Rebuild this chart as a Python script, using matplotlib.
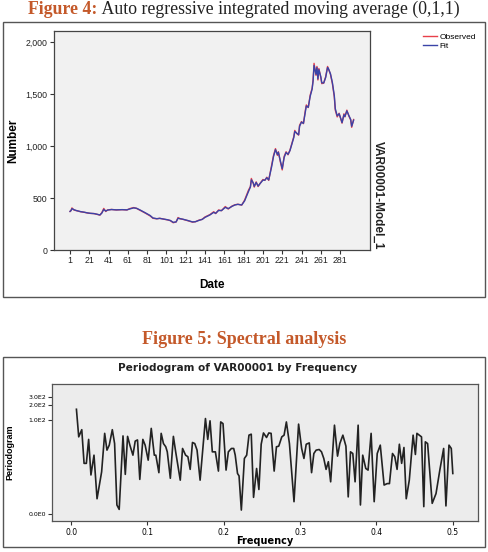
import matplotlib.pyplot as plt
from matplotlib.patches import Rectangle
from matplotlib.ticker import FixedLocator, NullLocator

# Figure 4 data
dates = [1, 2, 3, 5, 7, 9, 12, 16, 19, 22, 26, 29, 32, 34, 36, 38, 40, 44, 49, 55,
         60, 63, 67, 70, 74, 79, 84, 87, 91, 94, 99, 102, 105, 108, 111, 113, 115, 118, 123, 128,
         131, 135, 138, 141, 146, 150, 152, 155, 158, 162, 165, 169, 172, 175, 179, 182, 186, 188, 189, 191,
         192, 194, 196, 198, 201, 203, 205, 207, 210, 212, 214, 216, 217, 219, 221, 223, 225, 227, 229, 231,
         233, 234, 236, 238, 239, 241, 243, 245, 246, 248, 250, 252, 253, 254, 256, 257, 258, 259, 261, 262,
         264, 266, 268, 269, 271, 273, 275, 276, 278, 280, 282, 283, 285, 286, 288, 290, 292, 293, 295]
observed = [370, 380, 405, 385, 380, 375, 368, 362, 356, 352, 350, 343, 335, 360, 400, 370, 385, 390, 385, 388,
            385, 398, 408, 400, 380, 355, 328, 305, 300, 305, 295, 290, 282, 262, 270, 312, 300, 295, 282, 268,
            272, 288, 295, 318, 340, 368, 350, 385, 378, 418, 394, 423, 435, 440, 432, 480, 575, 610, 688, 640,
            605, 655, 610, 640, 678, 670, 700, 670, 815, 910, 975, 910, 945, 850, 770, 900, 945, 915, 960, 1025,
            1090, 1150, 1120, 1105, 1200, 1235, 1215, 1345, 1395, 1370, 1490, 1555, 1635, 1795, 1680, 1765, 1635, 1745, 1660, 1600,
            1605, 1665, 1765, 1740, 1690, 1600, 1470, 1345, 1280, 1315, 1250, 1220, 1310, 1280, 1345, 1290, 1250, 1180, 1255]
fit = [372, 378, 398, 388, 381, 376, 369, 363, 357, 353, 350, 344, 337, 355, 390, 375, 384, 389, 386, 388,
       386, 395, 405, 401, 383, 358, 332, 308, 301, 304, 296, 291, 284, 266, 270, 305, 302, 296, 284, 270,
       272, 286, 294, 314, 337, 362, 353, 380, 379, 410, 398, 420, 433, 439, 433, 472, 562, 605, 675, 645,
       612, 650, 615, 638, 672, 671, 695, 674, 800, 900, 965, 918, 940, 860, 782, 890, 938, 920, 955, 1018,
       1082, 1140, 1124, 1108, 1190, 1230, 1218, 1330, 1385, 1372, 1478, 1548, 1625, 1775, 1690, 1755, 1645, 1735, 1665, 1608,
       1606, 1658, 1755, 1742, 1695, 1610, 1485, 1360, 1290, 1310, 1256, 1225, 1300, 1284, 1338, 1295, 1255, 1190, 1248]

# Figure 5 data
freq = [0.007, 0.010, 0.014, 0.017, 0.020, 0.023, 0.026, 0.030, 0.034, 0.040,
        0.044, 0.047, 0.050, 0.054, 0.057, 0.060, 0.063, 0.068, 0.071, 0.074,
        0.077, 0.081, 0.084, 0.087, 0.090, 0.094, 0.097, 0.101, 0.105, 0.109,
        0.111, 0.115, 0.118, 0.121, 0.124, 0.126, 0.130, 0.134, 0.137, 0.143,
        0.146, 0.150, 0.153, 0.156, 0.159, 0.162, 0.165, 0.169, 0.176, 0.179,
        0.182, 0.185, 0.189, 0.193, 0.196, 0.199, 0.203, 0.206, 0.210, 0.213,
        0.215, 0.218, 0.220, 0.223, 0.227, 0.230, 0.233, 0.236, 0.239, 0.243,
        0.246, 0.249, 0.252, 0.256, 0.259, 0.262, 0.266, 0.269, 0.272, 0.276,
        0.279, 0.282, 0.286, 0.292, 0.298, 0.302, 0.305, 0.308, 0.312, 0.315,
        0.318, 0.321, 0.325, 0.328, 0.331, 0.334, 0.337, 0.340, 0.345, 0.349,
        0.352, 0.356, 0.360, 0.363, 0.366, 0.369, 0.372, 0.376, 0.379, 0.382,
        0.386, 0.389, 0.393, 0.397, 0.401, 0.405, 0.410, 0.414, 0.417, 0.421,
        0.424, 0.427, 0.430, 0.433, 0.436, 0.439, 0.443, 0.448, 0.451, 0.453,
        0.456, 0.459, 0.462, 0.464, 0.467, 0.473, 0.478, 0.483, 0.488, 0.491,
        0.495, 0.498, 0.500]
periodogram = [165, 43, 61, 11.8, 11.8, 38, 6.7, 17.6, 2.1, 7.8,
               51, 22.5, 28.7, 61, 31, 1.55, 1.25, 45, 6.9, 44,
               28.7, 17.6, 35, 37, 5.4, 38, 28.7, 13.8, 65, 17.6,
               17.6, 7.5, 51, 31, 26.5, 20.7, 5.7, 44, 20.7, 5.2,
               24.4, 17.6, 16.3, 8.8, 32.7, 31, 22.5, 5.2, 105, 38,
               94, 20.7, 20.7, 8.1, 89, 82, 8.5, 20.7, 24.4, 24.4,
               17.6, 7.2, 6.4, 1.21, 15.0, 17.6, 46.7, 49, 2.25, 9.2,
               3.3, 30, 52, 41.7, 52, 51, 8.1, 26.5, 27.3, 43,
               46.7, 89, 31, 1.82, 80, 24.4, 15.0, 30, 32, 7.5,
               19.1, 22.5, 23.2, 20.7, 15.0, 8.8, 12.8, 4.8, 76, 16.8,
               31, 46.7, 27.3, 2.3, 20.7, 19.1, 4.8, 76, 1.55, 17.6,
               9.2, 8.5, 51, 1.82, 19.1, 28.7, 4.1, 4.4, 4.4, 19.1,
               16.3, 8.8, 30, 11.8, 25.6, 2.1, 5.2, 46.7, 18.2, 51,
               46.7, 43, 1.43, 33.7, 31, 1.68, 2.7, 8.5, 24.4, 1.48,
               28.7, 24.4, 7.2]

date_ticks = list(range(1, 282, 20))
num_ticks = [0, 500, 1000, 1500, 2000]
freq_ticks = [0.0, 0.1, 0.2, 0.3, 0.4, 0.5]
pgram_ticks = [1, 100, 200, 300]
pgram_labels = ['0.0E0', '1.0E2', '2.0E2', '3.0E2']

W, H = 488, 552
CAPTION = '#c4592a'
SANS = 'Liberation Sans'
WIDE = 'DejaVu Sans'
SERIF = 'Liberation Serif'

fig = plt.figure(figsize=(W / 100, H / 100), dpi=100)


def fx(px):
    return px / W


def fy(py):
    return 1 - py / H


# boxes around each chart
for top, bot in [(22, 297), (357, 547)]:
    fig.patches.append(Rectangle((fx(3), fy(bot)), fx(482), (bot - top) / H,
                                 transform=fig.transFigure, fill=False,
                                 edgecolor='#555555', linewidth=1.0))

# captions
t1 = fig.text(fx(28), fy(9), 'Figure 4:', family=SERIF, fontsize=12.8,
              fontweight='bold', color=CAPTION, va='center', ha='left')
t2 = fig.text(0, 0, ' Auto regressive integrated moving average (0,1,1)',
              family=SERIF, fontsize=12.8, color='#222222', va='center', ha='left')
fig.canvas.draw()
r = fig.canvas.get_renderer()
b1 = t1.get_window_extent(r)
b2 = t2.get_window_extent(r)
x0 = (W - b1.width - b2.width) / 2
t1.set_position((fx(x0), fy(9)))
t2.set_position((fx(x0 + b1.width), fy(9)))

fig.text(0.5, fy(340), 'Figure 5: Spectral analysis', family=SERIF, fontsize=13,
         fontweight='bold', color=CAPTION, ha='center', va='center')

# ---- Figure 4: ARIMA ----
ax1 = fig.add_axes([fx(54), fy(250), fx(316), 219 / H])
ax1.set_facecolor('#f1f1f1')
ax1.plot(dates, observed, color='#e8404a', linewidth=1.0, label='Observed')
ax1.plot(dates, fit, color='#3a44a8', linewidth=1.0, label='Fit')
ax1.set_xlim(-15.6, 312)
ax1.set_ylim(0, 2106)
ax1.set_xticks(date_ticks)
ax1.set_yticks(num_ticks)
ax1.set_yticklabels([f'{v:,}' for v in num_ticks])
ax1.tick_params(axis='both', labelsize=6.3, length=3, width=0.8, color='#333333',
                labelcolor='#222222', pad=1.5)
for lab in ax1.get_xticklabels() + ax1.get_yticklabels():
    lab.set_family(SANS)
for s in ax1.spines.values():
    s.set_color('#444444')
    s.set_linewidth(0.9)
ax1.set_xlabel('Date', family=SANS, fontsize=8.5, fontweight='bold', labelpad=10)
ax1.set_ylabel('Number', family=SANS, fontsize=8.5, fontweight='bold', labelpad=5)
fig.text(fx(378), fy(195), 'VAR00001-Model_1', family=SANS, fontsize=8.5,
         fontweight='bold', rotation=270, ha='center', va='center', color='#222222')
fig.legend(loc='upper left', bbox_to_anchor=(fx(420), fy(30)), frameon=False,
           prop={'family': SANS, 'size': 6}, handlelength=1.6, handletextpad=0.3,
           labelspacing=0.1, borderaxespad=0)

# ---- Figure 5: periodogram ----
fig.text(fx(238), fy(368), 'Periodogram of VAR00001 by Frequency', family=WIDE,
         fontsize=7.6, fontweight='bold', ha='center', va='center', color='#222222')
ax2 = fig.add_axes([fx(52), fy(521), fx(426), 137 / H])
ax2.set_facecolor('#ececec')
ax2.plot(freq, periodogram, color='#222222', linewidth=1.2)
ax2.set_yscale('log')
ax2.set_xlim(-0.025, 0.533)
ax2.set_ylim(0.71, 566)
ax2.set_xticks(freq_ticks)
ax2.set_xticklabels([f'{v:.1f}' for v in freq_ticks])
ax2.yaxis.set_major_locator(FixedLocator(pgram_ticks))
ax2.yaxis.set_minor_locator(NullLocator())
ax2.set_yticklabels(pgram_labels)
ax2.tick_params(axis='x', labelsize=5.5, length=3, width=0.8, color='#333333', pad=2)
ax2.tick_params(axis='y', labelsize=4.5, length=3, width=0.8, color='#333333', pad=1)
for lab in ax2.get_xticklabels() + ax2.get_yticklabels():
    lab.set_family(WIDE)
for s in ax2.spines.values():
    s.set_color('#555555')
    s.set_linewidth(0.9)
ax2.set_xlabel('Frequency', family=WIDE, fontsize=7, fontweight='bold', labelpad=-1)
ax2.set_ylabel('Periodogram', family=SANS, fontsize=6.5, fontweight='bold', labelpad=10)

fig.savefig('out.png', dpi=100)
